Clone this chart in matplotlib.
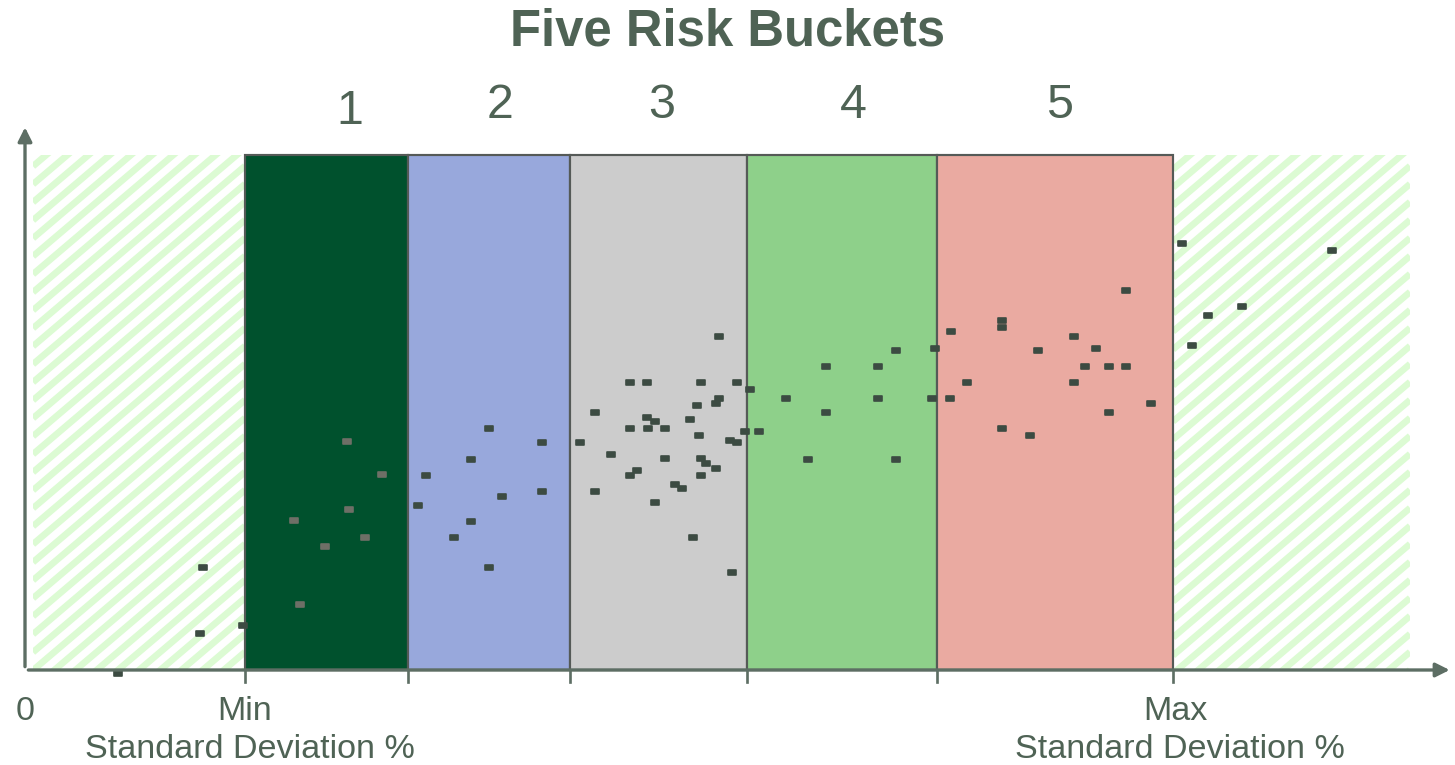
import numpy as np
import matplotlib
matplotlib.use('Agg')
import matplotlib.pyplot as plt
from matplotlib.path import Path
from matplotlib.patches import Rectangle

# Data (x = standard deviation units, y = return units)
bucket_labels = ['1', '2', '3', '4', '5']
bucket_edges = [2.20, 3.83, 5.45, 7.22, 9.12, 11.48]
bucket_colors = ['#00512d', '#98a8dc', '#cccccc', '#8ed08a', '#eaaaa1']
zone_left = (0.08, 2.20)
zone_right = (11.48, 13.85)
zone_top = 5.15

pts_x = [1.78, 1.75, 2.18, 0.93,
         3.22, 3.57, 2.69, 3.24, 3.40, 3.00, 2.75,
         4.64, 5.17, 4.46, 4.01, 4.77, 5.17, 3.93, 4.46, 4.29, 4.64,
         6.94, 6.05, 6.22, 6.76, 7.12, 6.94, 6.91, 6.72, 5.70, 6.22, 6.30, 6.65,
         6.05, 6.23, 6.40, 7.20, 6.74, 5.55, 7.05, 7.12, 5.86, 6.40, 6.76, 6.81,
         6.91, 6.12, 6.05, 6.76, 6.50, 6.57, 5.70, 6.30, 6.68, 7.07,
         9.10, 8.71, 8.01, 8.53, 7.25, 7.61, 8.53, 9.07, 8.01, 7.34, 7.83, 8.71,
         9.77, 9.77, 9.26, 10.49, 10.13, 10.71, 10.60, 10.84, 11.01, 9.42, 10.49,
         9.25, 11.26, 10.84, 9.77, 10.05, 11.01,
         11.57, 13.07, 12.17, 11.83, 11.67]
pts_y = [1.03, 0.37, 0.45, -0.03,
         2.29, 1.96, 1.50, 1.61, 1.33, 1.24, 0.66,
         2.42, 2.28, 2.11, 1.95, 1.74, 1.79, 1.65, 1.49, 1.33, 1.03,
         3.34, 2.88, 2.88, 2.88, 2.88, 2.72, 2.67, 2.65, 2.58, 2.53, 2.49, 2.51,
         2.42, 2.42, 2.42, 2.39, 2.35, 2.28, 2.30, 2.28, 2.16, 2.12, 2.12, 2.07,
         2.02, 2.00, 1.95, 1.95, 1.86, 1.82, 1.79, 1.68, 1.33, 0.98,
         3.22, 3.20, 3.04, 3.04, 2.81, 2.72, 2.72, 2.72, 2.58, 2.39, 2.11, 2.11,
         3.50, 3.43, 3.39, 3.34, 3.20, 3.22, 3.04, 3.04, 3.80, 2.88, 2.88,
         2.72, 2.67, 2.58, 2.42, 2.35, 3.04,
         4.27, 4.20, 3.64, 3.55, 3.25]

plt.rcParams['font.family'] = ['Liberation Sans', 'DejaVu Sans']

text_color = '#4f6355'
axis_color = '#5d6e64'

fig = plt.figure(figsize=(12.125, 6.375), dpi=120)
ax = fig.add_axes([0, 0, 1, 1])
ax.set_xlim(-0.25, 14.30)
ax.set_ylim(-0.95, 6.70)
ax.axis('off')

# hatched zones outside min / max (light green diagonal stripes)
slope, gap = 0.85, 0.18
for x0, x1 in [zone_left, zone_right]:
    clip = Rectangle((x0, 0), x1 - x0, zone_top, facecolor='white',
                     linewidth=0, zorder=1)
    ax.add_patch(clip)
    for c in np.arange(-slope * (x1 - x0), zone_top + gap, gap):
        ln, = ax.plot([x0, x1], [c, c + slope * (x1 - x0)], color='#dcfbd3',
                      lw=4.0, solid_capstyle='butt', zorder=1.5)
        ln.set_clip_path(clip)

# buckets
for i, lab in enumerate(bucket_labels):
    x0, x1 = bucket_edges[i], bucket_edges[i + 1]
    ax.add_patch(Rectangle((x0, 0), x1 - x0, zone_top, facecolor=bucket_colors[i],
                           edgecolor='#555a57', linewidth=1.3, zorder=2))
label_pos = [(3.25, 5.58), (4.75, 5.65), (6.37, 5.65), (8.28, 5.65), (10.35, 5.65)]
for lab, (lx, ly) in zip(bucket_labels, label_pos):
    ax.text(lx, ly, lab, ha='center', va='center', fontsize=29, color=text_color)

# points (small flat rectangles)
rect = Path([(-1, -0.6), (1, -0.6), (1, 0.6), (-1, 0.6), (-1, -0.6)], closed=True)
px = np.array(pts_x)
py = np.array(pts_y)
in_dark = (px > bucket_edges[0] + 0.05) & (px < bucket_edges[1])
ax.plot(px[~in_dark], py[~in_dark], linestyle='none', marker=rect, markersize=5,
        color='#3c4b42', zorder=4)
ax.plot(px[in_dark], py[in_dark], linestyle='none', marker=rect, markersize=5,
        color='#6e6f66', zorder=4)

# axes with arrows
ax.annotate('', xy=(14.28, 0), xytext=(0, 0),
            arrowprops=dict(arrowstyle='-|>,head_length=0.7,head_width=0.35',
                            color=axis_color, lw=2), zorder=5)
ax.annotate('', xy=(0, 5.46), xytext=(0, 0),
            arrowprops=dict(arrowstyle='-|>,head_length=0.7,head_width=0.35',
                            color=axis_color, lw=2), zorder=5)
for e in bucket_edges:
    ax.plot([e, e], [0, -0.12], color=axis_color, lw=1.6, zorder=5)

# labels
fs = 20.5
ax.text(0.0, -0.42, '0', ha='center', va='center', fontsize=fs, color=text_color)
ax.text(2.20, -0.42, 'Min', ha='center', va='center', fontsize=fs, color=text_color)
ax.text(2.25, -0.79, 'Standard Deviation %', ha='center', va='center', fontsize=fs,
        color=text_color)
ax.text(11.50, -0.42, 'Max', ha='center', va='center', fontsize=fs, color=text_color)
ax.text(11.55, -0.79, 'Standard Deviation %', ha='center', va='center', fontsize=fs,
        color=text_color)

ax.text(7.03, 6.38, 'Five Risk Buckets', ha='center', va='center', fontsize=30.5,
        fontweight='bold', color=text_color)

fig.savefig('out.png', dpi=120)
